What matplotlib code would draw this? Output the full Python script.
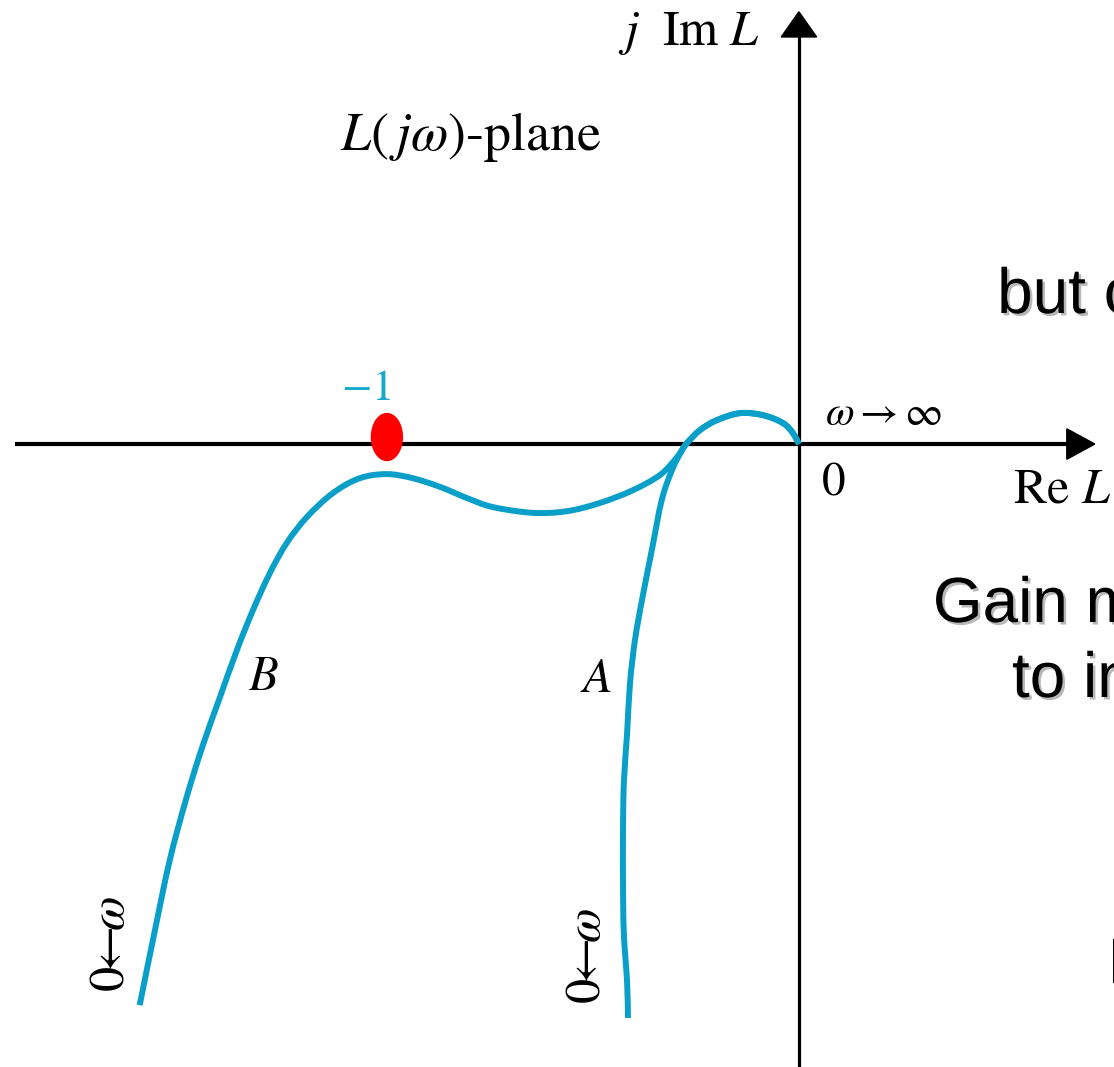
import numpy as np
import matplotlib
matplotlib.use("Agg")
import matplotlib.pyplot as plt
from matplotlib.patches import Ellipse, Polygon, PathPatch
from matplotlib.path import Path
import matplotlib.patheffects as pe

plt.rcParams["mathtext.fontset"] = "stix"
plt.rcParams["font.family"] = ["STIXGeneral", "DejaVu Serif"]

# Nyquist loci of L(jw) in the L-plane (Re, Im), from w -> 0 up to w -> infinity
curve_b_re = [-1.600, -1.563, -1.527, -1.488, -1.449, -1.405, -1.364, -1.325,
              -1.284, -1.243, -1.194, -1.131, -1.066, -1.000, -0.937, -0.871,
              -0.806, -0.743, -0.646, -0.563, -0.483, -0.403, -0.337, -0.296,
              -0.272, -0.240, -0.199, -0.143, -0.087, -0.039, -0.015, 0.000]
curve_b_im = [-1.362, -1.180, -1.010, -0.864, -0.738, -0.614, -0.500, -0.403,
              -0.313, -0.240, -0.177, -0.119, -0.083, -0.073, -0.083, -0.104,
              -0.131, -0.153, -0.167, -0.163, -0.143, -0.112, -0.075, -0.032,
              0.002, 0.034, 0.058, 0.075, 0.070, 0.051, 0.027, 0.000]

curve_a_re = [-0.415, -0.417, -0.425, -0.427, -0.427, -0.425, -0.417, -0.410,
              -0.398, -0.381, -0.357, -0.333, -0.308, -0.284, -0.272, -0.240,
              -0.199, -0.143, -0.087, -0.039, -0.015, 0.000]
curve_a_im = [-1.393, -1.308, -1.187, -1.066, -0.944, -0.823, -0.701, -0.580,
              -0.476, -0.379, -0.257, -0.136, -0.063, -0.015, 0.002, 0.034,
              0.058, 0.075, 0.070, 0.051, 0.027, 0.000]

critical_re = -1.0
critical_label = r"$-1$"

locus_color = "#0a9fc8"
label_color = "#18a8cc"


def smooth_locus(xs, ys):
    """Path through the given points, joined by cubic Bezier segments."""
    p = np.column_stack([xs, ys])
    n = len(p)
    verts = [p[0]]
    codes = [Path.MOVETO]
    for i in range(n - 1):
        prev_pt = p[i - 1] if i > 0 else p[i]
        next_pt = p[i + 2] if i + 2 < n else p[i + 1]
        c1 = p[i] + (p[i + 1] - prev_pt) / 6.0
        c2 = p[i + 1] - (next_pt - p[i]) / 6.0
        verts += [c1, c2, p[i + 1]]
        codes += [Path.CURVE4] * 3
    return Path(verts, codes)


fig = plt.figure(figsize=(11.14, 10.67), dpi=100)
ax = fig.add_axes([0, 0, 1, 1])
ax.set_xlim(-1.939, 0.7646)
ax.set_ylim(-1.512, 1.0777)
ax.axis("off")

# Real and imaginary axes with arrow heads
ax.plot([-1.903, 0.660], [0, 0], color="black", lw=3.0, solid_capstyle="butt", zorder=2)
ax.add_patch(Polygon([[0.650, 0.037], [0.718, 0.0], [0.650, -0.037]],
                     closed=True, color="black", zorder=3))
ax.plot([0, 0], [-1.52, 1.0], color="black", lw=2.3, solid_capstyle="butt", zorder=2)
ax.add_patch(Polygon([[-0.043, 0.988], [0.0, 1.049], [0.043, 0.988]],
                     closed=True, color="black", zorder=3))

# Loci
for xs, ys in [(curve_b_re, curve_b_im), (curve_a_re, curve_a_im)]:
    ax.add_patch(PathPatch(smooth_locus(xs, ys), facecolor="none",
                           edgecolor=locus_color, lw=4.3, joinstyle="round",
                           capstyle="butt", zorder=4))

# Critical point
ax.add_patch(Ellipse((critical_re, 0.017), 0.075, 0.114, color="#ff0000", zorder=5))
ax.text(critical_re - 0.05, 0.107, critical_label, color=label_color, fontsize=32,
        ha="center", va="baseline")

# Axis and plane labels
ax.text(-0.095, 0.968, r"$j\ \ \mathrm{Im}\ L$", fontsize=36, ha="right", va="baseline")
ax.text(-1.114, 0.714, r"$L(\,j\omega)$-plane", fontsize=39, ha="left", va="baseline")
ax.text(0.063, 0.046, r"$\omega\rightarrow\infty$", fontsize=30, ha="left", va="baseline")
ax.text(0.056, -0.124, "0", fontsize=34, ha="left", va="baseline")
ax.text(0.519, -0.143, r"Re $L$", fontsize=36, ha="left", va="baseline")
ax.text(-1.299, -0.597, r"$B$", fontsize=35, ha="center", va="baseline")
ax.text(-0.493, -0.602, r"$A$", fontsize=35, ha="center", va="baseline")
ax.text(-1.667, -1.214, r"$0\!\!\leftarrow\!\!\omega$", fontsize=36, rotation=90,
        ha="center", va="center")
ax.text(-0.512, -1.243, r"$0\!\!\leftarrow\!\!\omega$", fontsize=36, rotation=90,
        ha="center", va="center")

# Side notes
shadow = [pe.SimplePatchShadow(offset=(1.8, -1.8), shadow_rgbFace="#9a9a9a", alpha=0.7),
          pe.Normal()]
note_kw = dict(fontsize=46, family=["Liberation Sans", "DejaVu Sans"],
               ha="left", va="baseline", path_effects=shadow)
ax.text(0.481, 0.318, "but c", **note_kw)
ax.text(0.325, -0.432, "Gain m", **note_kw)
ax.text(0.517, -0.614, "to in", **note_kw)
ax.text(0.748, -1.308, "I", **note_kw)

fig.savefig("out.png", dpi=100)
